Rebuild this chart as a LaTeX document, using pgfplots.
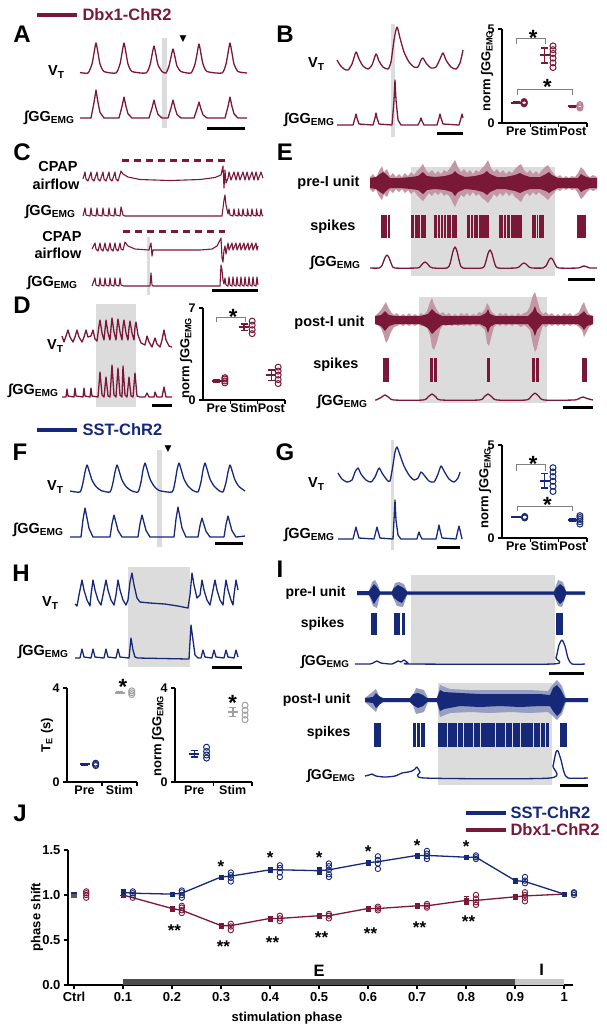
\documentclass[border=0pt]{standalone}
\usepackage{fontspec}
\setmainfont{Liberation Sans}
\newfontfamily\dejavu{DejaVu Sans}
\usepackage{pgfplots}
\pgfplotsset{compat=1.18}

\definecolor{mar}{RGB}{122,24,56}
\definecolor{nav}{RGB}{22,40,120}
\definecolor{shade}{RGB}{220,220,220}
\definecolor{stimgray}{RGB}{160,160,160}

\newcommand\lab{\fontsize{14.5}{16}\selectfont\bfseries}
\newcommand\labi{\fontsize{14}{16}\selectfont\bfseries}
\newcommand\pl{\fontsize{24}{26}\selectfont\bfseries}
\newcommand\leg{\fontsize{16.5}{18}\selectfont\bfseries}
\newcommand\tk{\fontsize{12.5}{14}\selectfont\bfseries}
\newcommand\ylab{\fontsize{13}{14}\selectfont\bfseries}
\newcommand\st{\fontsize{22}{22}\selectfont\bfseries}
\newcommand\stj{\fontsize{17}{17}\selectfont\bfseries}

% filled block: x1 x2 y1 y2 colour
\newcommand\blk[5]{\addplot[fill=#5,draw=none] coordinates {(#1,#3)(#2,#3)(#2,#4)(#1,#4)} --cycle;}
% scale bar: x1 x2 y
\newcommand\sbar[3]{\addplot[black,line width=3pt] coordinates {(#1,#3)(#2,#3)};}

\pgfplotsset{
  tr/.style={line width=1.3pt, line join=round},
  sc/.style={scale only axis, anchor=south west, axis lines=left,
    axis line style={line width=1.5pt,-}, tick align=outside,
    major tick length=4pt, tick style={line width=1.4pt,black},
    tick label style={font=\tk}, /pgf/number format/assume math mode=true,
    clip=false},
  cat/.style={xtick={1.5,2.5,3.5}, xticklabels={}, extra x tick style={major tick length=0pt}},
  mn/.style={error bars/.cd, y dir=both, y explicit, error bar style={line width=1.5pt},
    error mark options={rotate=90, mark size=3.5pt, line width=1.5pt},
    /pgfplots/.cd, only marks, mark=-, mark size=5pt, mark options={line width=2pt}},
  pt/.style={only marks, mark=o, mark size=3pt, mark options={line width=1pt}},
  jm/.style={error bars/.cd, y dir=both, y explicit, error bar style={line width=1pt},
    error mark options={rotate=90, mark size=2.5pt, line width=1pt},
    /pgfplots/.cd, only marks, mark=square*, mark size=2.3pt},
  jp/.style={only marks, mark=o, mark size=2.7pt, mark options={line width=0.9pt}},
}

\begin{document}
\begin{tikzpicture}
\path[use as bounding box] (0,0) rectangle (607pt,-1029pt);

% ---------------- canvas with all the recordings ----------------
\begin{axis}[at={(0pt,0pt)}, anchor=north west, width=607pt, height=1029pt,
  scale only axis, xmin=0, xmax=607, ymin=0, ymax=1029, y dir=reverse,
  axis lines=none, clip=false]

% shaded stimulation periods
\blk{162}{167}{38}{128}{shade}
\blk{391}{395}{24}{137}{shade}
\blk{147}{150}{237}{295}{shade}
\blk{96}{136}{304}{407}{shade}
\blk{411}{555}{167}{276}{shade}
\blk{419}{547}{297}{403}{shade}
\blk{157}{162}{450}{547}{shade}
\blk{391}{394}{440}{550}{shade}
\blk{128}{190}{567}{667}{shade}
\blk{411}{555}{575}{665}{shade}
\blk{438}{552}{683}{785}{shade}

% scale bars
\sbar{207}{245}{128}
\sbar{437}{463}{133}
\sbar{212}{258}{290}
\sbar{152}{172}{405}
\sbar{568}{595}{279}
\sbar{563}{593}{407}
\sbar{215}{243}{543}
\sbar{437}{460}{547}
\sbar{212}{242}{667}
\sbar{549}{584}{673}
\sbar{560}{588}{785}

% genotype keys
\addplot[mar,line width=4.5pt] coordinates {(37,15)(77,15)};
\addplot[nav,line width=4.5pt] coordinates {(37,430)(77,430)};
\addplot[nav,line width=4.5pt] coordinates {(466,813)(506,813)};
\addplot[mar,line width=4.5pt] coordinates {(466,830)(506,830)};

% ---- A ----
\addplot[tr,mar,smooth,tension=0.35] coordinates {(80,72.5)(88,73)(92,64)(94,53)(96,43)(98,53)(100,64)(104,71.5)(116,73)(120,64)(122,53)(124,43)(126,53)(128,64)(132,71.5)(146,73)(150,65)(152,55)(154,46)(156,55)(158,65)(162,71.5)(166,73)(169,66)(171,57)(173,49)(175,57)(177,66)(181,71.5)(191,73)(195,64)(197,54)(199,44)(201,54)(203,64)(207,71.5)(222,73)(226,64)(228,53)(230,43)(232,53)(234,64)(238,71.5)(247,73)};
\addplot[tr,mar] coordinates {(80,118)(91,118)(94,102.5)(96,90)(98,102.5)(100,112.4)(104,118)(119,118)(122,106.5)(124,97)(126,106.5)(128,113.8)(132,118)(149,118)(152,108)(154,100)(156,108)(158,114.4)(162,118)(168,118)(171,108)(173,100)(175,108)(177,114.4)(181,118)(194,118)(197,109)(199,102)(201,109)(203,114.8)(207,118)(225,118)(228,106.5)(230,97)(232,106.5)(234,113.8)(238,118)(247,118)};

% ---- B ----
\addplot[tr,mar,smooth,tension=0.4] coordinates {(337,60)(340,65)(344,69)(348,70)(352,64)(356,52)(359,59)(363,66)(368,69)(372,65)(376,54)(379,61)(383,67)(388,69)(391,62)(394,40)(397,27)(400,38)(404,52)(409,62)(414,67)(418,67)(421,60)(423,58)(426,63)(431,68)(436,67)(440,59)(443,53)(446,60)(451,67)(456,69)(460,63)(463,50)};
\addplot[tr,mar] coordinates {(337,125)(353,125)(355,118)(356,114)(357,118)(359,124)(373,125)(375,118)(376,113)(377,118)(379,124)(392,125)(394,100)(395,80)(396,100)(398,120)(401,125)(418,125)(420,121)(421,118)(422,121)(424,125)(437,125)(439,118)(440,114)(441,118)(443,124)(459,125)(461,118)(462,114)(463,118)};

% ---- C ----
\addplot[mar,line width=3pt,dash pattern=on 7pt off 5pt] coordinates {(122,160)(225,160)};
\addplot[mar,line width=3pt,dash pattern=on 7pt off 5pt] coordinates {(123,231)(225,231)};
\addplot[tr,mar,line width=1.1pt] coordinates {(83,179)(85,172)(86,179)(88,181)(91,172)(92,179)(94,181)(97,172)(98,179)(100,181)(103,172)(104,179)(106,181)(109,172)(110,179)(112,181)(115,172)(116,179)(118,181)(121,171)(123,174)(128,177)(140,179.5)(170,180.5)(200,179.5)(215,177.5)(221,175)(223,166)(224,188)(225,170)(226,183)(228,178)(229,172)(231,180)(234,172)(236,180)(238,172)(240,180)(243,172)(245,180)(247,172)(249,180)(252,172)(254,180)(256,172)(258,180)(261,172)(263,178)};
\addplot[tr,mar,line width=1.1pt] coordinates {(83,216)(85,208)(86,215)(90,216)(91,208)(92,215)(96,216)(97,208)(98,215)(102,216)(103,208)(104,215)(108,216)(109,208)(110,215)(114,216)(115,208)(116,215)(120,216)(121,207)(123,215)(125,216)(222,216)(224,200)(225,195)(226,205)(228,214)(229,209)(230,215)(233,216)(234,209)(235,215)(238,216)(238.5,209)(239.5,215)(242,216)(243,209)(244,215)(247,216)(247.5,209)(248.5,215)(251,216)(252,209)(253,215)(256,216)(256.5,209)(257.5,215)(260,216)(261,209)(262,215)(263,216)};
\addplot[tr,mar,line width=1.1pt] coordinates {(92,249)(95,243)(96,249)(98,251)(100,243)(101,249)(103,251)(105,243)(106,249)(108,251)(110,243)(111,249)(113,251)(115,243)(116,249)(118,251)(120,243)(121,249)(123,250)(125,242)(128,246)(135,249)(149,250)(150,246)(151,243)(152,256)(153,250)(160,250)(200,250)(212,249)(217,246)(220,240)(221,238)(222,258)(223,262)(224,250)(225,246)(226,254)(228,243)(229,250)(232,243)(233,250)(236,243)(237,250)(240,243)(241,250)(244,243)(245,250)(248,243)(249,250)(252,243)(253,250)(256,243)(257,250)(258,246)};
\addplot[tr,mar,line width=1.1pt] coordinates {(92,286)(95,278)(96,285)(99,286)(100,278)(101,285)(104,286)(105,278)(106,285)(109,286)(110,278)(111,285)(114,286)(115,278)(116,285)(119,286)(120,278)(121,285)(124,286)(150,286)(151,273)(152,285)(153,286)(220,286)(221,265)(222,270)(223,280)(224,284)(225,278)(226,285)(228,286)(229,277)(230,285)(232,286)(233,277)(234,285)(236,286)(237,277)(238,285)(240,286)(241,277)(242,285)(244,286)(245,277)(246,285)(248,286)(249,277)(250,285)(252,286)(253,277)(254,285)(256,286)(257,277)(258,285)};

% ---- D ----
\addplot[tr,mar] coordinates {(62,336)(64,342)(66,336)(68,330)(70,337)(73,342)(75,337)(77,330)(79,337)(82,342)(84,337)(86,330)(88,337)(91,336)(93,330)(95,339)(97,341)(99,326)(100,320)(102,333)(104,340)(105,330)(106,320)(108,333)(110,340)(111,328)(112,318)(114,332)(116,340)(117,328)(118,319)(120,332)(122,340)(123,326)(124,320)(126,333)(128,340)(129,328)(130,321)(132,333)(134,340)(135,327)(136,322)(138,335)(141,343)(145,345)(147,336)(149,342)(152,347)(155,338)(157,344)(160,347)(162,340)(164,330)(166,340)(169,346)(172,347)};
\addplot[tr,mar] coordinates {(62,397)(66,397)(67,389)(68,396)(74,397)(75,388)(76,396)(83,397)(84,388)(85,396)(90,397)(91,388)(92,396)(98,397)(100,372)(102,395)(104,397)(106,377)(108,396)(110,397)(112,365)(114,395)(116,397)(118,368)(120,395)(122,397)(123,366)(125,395)(127,397)(129,377)(131,396)(133,397)(135,373)(137,396)(140,397)(145,397)(147,393)(149,397)(154,397)(155,392)(157,397)(162,397)(164,387)(166,397)(172,397)};

% ---- E : pre-I unit ----
\addplot[fill=mar!45,draw=none] coordinates {(370,177)(373,174)(376,178)(379,171)(382,166)(384,172)(387,169)(390,176)(393,173)(396,177)(399,174)(402,177)(405,173)(408,176)(411,172)(414,175)(417,171)(420,168)(423,164)(426,170)(429,173)(432,170)(435,174)(438,171)(441,174)(444,170)(447,172)(450,168)(453,163)(455,160)(458,167)(461,172)(464,169)(467,173)(470,170)(473,174)(476,170)(479,172)(482,168)(485,165)(488,160)(491,168)(494,172)(497,169)(500,173)(503,170)(506,174)(509,171)(512,173)(515,169)(518,166)(521,164)(524,170)(527,173)(530,170)(533,174)(536,171)(539,174)(542,170)(545,167)(548,165)(551,170)(554,174)(557,177)(560,175)(563,178)(566,176)(569,178)(572,176)(575,177)(578,173)(581,167)(584,170)(587,175)(590,177)(593,175)(597,177)
(597,189)(593,191)(590,189)(587,192)(584,196)(581,199)(578,193)(575,189)(572,190)(569,188)(566,190)(563,188)(560,191)(557,189)(554,193)(551,196)(548,200)(545,197)(542,195)(539,192)(536,195)(533,192)(530,196)(527,193)(524,196)(521,202)(518,199)(515,197)(512,193)(509,196)(506,192)(503,196)(500,193)(497,197)(494,194)(491,199)(488,203)(485,200)(482,198)(479,194)(476,196)(473,192)(470,196)(467,193)(464,197)(461,195)(458,200)(455,207)(453,203)(450,197)(447,194)(444,196)(441,192)(438,195)(435,192)(432,196)(429,193)(426,197)(423,201)(420,198)(417,195)(414,191)(411,194)(408,190)(405,193)(402,189)(399,192)(396,189)(393,193)(390,190)(387,197)(384,194)(382,200)(379,196)(376,189)(373,192)(370,189)} --cycle;
\addplot[fill=mar,draw=none] coordinates {(370,178)(376,177)(380,174)(383,172)(386,174)(390,178)(400,178)(411,177)(418,176)(423,172)(427,176)(435,177)(445,176)(452,174)(455,171)(458,174)(465,177)(475,176)(483,174)(487,171)(490,174)(497,177)(505,177)(515,175)(520,173)(524,175)(530,177)(540,177)(546,174)(549,172)(552,175)(558,178)(570,178)(578,178)(581,174)(584,176)(590,178)(597,178)(597,188)(590,188)(584,190)(581,192)(578,188)(570,188)(558,188)(552,191)(549,193)(546,191)(540,189)(530,189)(524,191)(520,193)(515,191)(505,189)(497,189)(490,192)(487,195)(483,192)(475,190)(465,189)(458,192)(455,196)(452,192)(445,190)(435,189)(427,190)(423,194)(418,190)(411,189)(400,188)(390,188)(386,191)(383,194)(380,192)(376,189)(370,188)} --cycle;
% spikes
\blk{381}{386.5}{215}{238}{mar}\blk{387.5}{389.5}{215}{238}{mar}
\blk{411}{414}{215}{238}{mar}\blk{415}{419.5}{215}{238}{mar}\blk{420.5}{426}{215}{238}{mar}
\blk{434}{437}{215}{238}{mar}\blk{438}{440}{215}{238}{mar}\blk{441}{442.5}{215}{238}{mar}\blk{443.5}{445.5}{215}{238}{mar}\blk{446.5}{450.5}{215}{238}{mar}\blk{451.5}{457}{215}{238}{mar}
\blk{467}{470}{215}{238}{mar}\blk{471}{473}{215}{238}{mar}\blk{474}{478}{215}{238}{mar}\blk{479}{489}{215}{238}{mar}
\blk{499}{503}{215}{238}{mar}\blk{504}{506}{215}{238}{mar}\blk{507}{510}{215}{238}{mar}\blk{511}{522}{215}{238}{mar}
\blk{532}{536}{215}{238}{mar}\blk{537}{538}{215}{238}{mar}\blk{539}{544}{215}{238}{mar}
\blk{577}{586}{215}{238}{mar}
\addplot[tr,mar,smooth,tension=0.4] coordinates {(370,268)(379,268)(382,265.4)(385,257.6)(387,255)(389,257.6)(392,265.4)(395,268)(417,268)(420,266.8)(423,263.2)(425,262)(427,263.2)(430,266.8)(433,268)(447,268)(450,263.8)(453,251.2)(455,247)(457,251.2)(460,263.8)(463,268)(482,268)(485,264.4)(488,253.6)(490,250)(492,253.6)(495,264.4)(498,268)(516,268)(519,267)(522,264)(524,263)(526,264)(529,267)(532,268)(543,268)(546,266)(549,260)(551,258)(553,260)(556,266)(559,268)(578,268)(582,266.5)(584,266)(586,266.5)(590,268)(597,268)};

% ---- E : post-I unit ----
\addplot[fill=mar!45,draw=none] coordinates {(375,316)(378,313)(381,310)(384,305)(386,302)(388,307)(391,312)(394,315)(397,313)(400,316)(403,314)(406,316)(409,313)(412,316)(415,314)(418,316)(421,313)(424,315)(427,311)(430,302)(432,298)(434,304)(437,310)(440,314)(443,312)(446,315)(449,313)(452,316)(455,314)(458,316)(461,313)(464,315)(467,313)(470,316)(473,314)(476,315)(479,312)(482,313)(485,309)(487,303)(489,306)(491,311)(494,314)(497,316)(500,313)(503,315)(506,313)(509,316)(512,314)(515,316)(518,313)(521,315)(524,313)(527,312)(530,306)(533,295)(535,292)(537,299)(540,310)(543,314)(546,312)(549,315)(552,313)(555,316)(558,314)(561,316)(564,313)(567,315)(570,313)(573,316)(576,314)(579,312)(582,305)(584,302)(586,308)(589,314)(593,316)
(593,324)(589,327)(586,333)(584,337)(582,330)(579,327)(576,325)(573,324)(570,326)(567,324)(564,326)(561,324)(558,326)(555,324)(552,326)(549,324)(546,327)(543,325)(540,335)(537,348)(535,352)(533,345)(530,330)(527,327)(524,325)(521,327)(518,325)(515,324)(512,326)(509,324)(506,326)(503,324)(500,326)(497,324)(494,327)(491,338)(489,346)(487,343)(485,330)(482,327)(479,325)(476,326)(473,324)(470,326)(467,324)(464,326)(461,324)(458,326)(455,324)(452,326)(449,324)(446,326)(443,325)(440,330)(437,342)(434,350)(432,347)(430,335)(427,328)(424,325)(421,326)(418,324)(415,326)(412,324)(409,326)(406,324)(403,326)(400,324)(397,326)(394,327)(391,332)(388,340)(386,343)(384,336)(381,328)(378,325)(375,324)} --cycle;
\addplot[fill=mar,draw=none] coordinates {(375,316)(381,315)(385,311)(389,315)(395,316)(420,316)(428,314)(432,309)(436,313)(442,316)(480,316)(486,313)(488,309)(490,314)(495,316)(528,316)(533,311)(535,306)(537,312)(542,316)(578,316)(582,313)(584,311)(587,315)(593,316)(593,324)(587,326)(584,330)(582,327)(578,324)(542,324)(537,330)(535,336)(533,330)(528,324)(495,324)(490,327)(488,333)(486,327)(480,324)(442,325)(436,330)(432,334)(428,328)(420,324)(395,324)(389,326)(385,331)(381,326)(375,324)} --cycle;
\blk{383}{389}{358}{382}{mar}
\blk{430}{433}{358}{382}{mar}\blk{434}{437}{358}{382}{mar}
\blk{487}{490}{358}{382}{mar}
\blk{532}{535}{358}{382}{mar}\blk{536}{539}{358}{382}{mar}
\blk{582}{587}{358}{382}{mar}
\addplot[tr,mar,smooth,tension=0.4] coordinates {(375,400)(376,400)(381,397.5)(385,395)(389,397.5)(394,400)(423,400)(428,397)(432,394)(436,397)(441,400)(479,400)(484,397)(488,394)(492,397)(497,400)(526,400)(531,396.5)(535,393)(539,396.5)(544,400)(574,400)(579,398.5)(583,397)(587,398.5)(593,400)};

% ---- F ----
\addplot[tr,nav,smooth,tension=0.35] coordinates {(70,491)(80,492)(83,482.5)(85,472)(87,465)(89,470.5)(92,480)(96,486.5)(101,490.5)(110,492)(113,482.5)(115,472)(117,465)(119,470.5)(122,480)(126,486.5)(131,490.5)(138,492)(141,482)(143,470)(145,463)(147,469)(150,479)(154,486)(159,490.5)(172,492)(175,482)(177,470)(179,463)(181,469)(184,479)(188,486)(193,490.5)(198,492)(201,482)(203,470)(205,463)(207,469)(210,479)(214,486)(219,490.5)(223,492)(226,482.5)(228,472)(230,465)(232,470.5)(235,480)(239,486.5)(245,491)};
\addplot[tr,nav] coordinates {(70,537)(81,537)(83,519.6)(85,508)(87,518)(89,528.3)(93,537)(110,537)(112,523.8)(114,515)(116,522.7)(118,530.4)(122,537)(138,537)(140,523.8)(142,515)(144,522.7)(146,530.4)(150,537)(174,537)(176,519)(178,507)(180,517.5)(182,528)(186,537)(198,537)(200,525.6)(202,518)(204,524.7)(206,531.3)(210,537)(224,537)(226,524.4)(228,516)(230,523.4)(232,530.7)(236,537)(245,536)};

% ---- G ----
\addplot[tr,nav,smooth,tension=0.4] coordinates {(338,473)(342,479)(347,482)(352,480)(355,472)(358,468)(361,474)(366,480)(371,482)(375,477)(379,468)(382,473)(387,480)(390,481)(393,465)(395,452)(397,447)(400,455)(404,466)(409,475)(414,480)(418,478)(421,472)(424,475)(429,481)(434,482)(438,474)(441,466)(444,471)(449,479)(454,482)(458,478)(460,472)};
\addplot[tr,nav] coordinates {(338,539)(353,539)(355,531)(356,527)(357,531)(359,538)(374,539)(376,531)(377,527)(378,531)(380,538)(393,539)(394,520)(395,500)(396,520)(398,535)(401,539)(417,539)(418,535)(419,532)(420,535)(422,539)(436,539)(438,530)(439,525)(440,530)(442,538)(456,539)(458,530)(459,526)(460,530)(462,539)};

% ---- H ----
\addplot[tr,nav] coordinates {(75,604)(77,606)(79,595)(82,580)(84,590)(87,600)(90,606)(91,595)(93,580)(95,590)(98,600)(101,605)(103,595)(106,580)(108,590)(111,600)(114,605)(116,595)(118,580)(120,590)(123,600)(126,605)(128,600)(130,582)(132,573)(134,585)(137,598)(140,602)(150,603)(165,604)(178,606)(188,608)(190,595)(192,573)(194,585)(197,598)(200,595)(202,580)(204,590)(207,600)(210,605)(212,595)(215,580)(217,590)(220,600)(223,605)(224,595)(226,580)(228,590)(231,600)(233,605)(234,595)(236,580)(238,590)};
\addplot[tr,nav] coordinates {(75,658)(80,658)(82,649)(84,657)(91,658)(93,649)(95,657)(104,658)(106,649)(108,657)(116,658)(118,649)(120,657)(129,658)(131,638)(133,650)(135,657)(138,658)(189,659)(191,625)(193,640)(195,655)(198,658)(201,658)(203,650)(205,657)(212,658)(214,650)(216,657)(224,658)(226,650)(228,657)(234,658)(236,650)(238,657)};

% ---- I : pre-I unit ----
\addplot[fill=nav!45,draw=none] coordinates {(357,591)(369,591)(372,582)(375,580)(378,585)(380,591)(392,591)(395,583)(399,582)(404,584)(407,591)(554,591)(558,580)(563,582)(566,591)(585,591)(585,595)(566,595)(562,607)(558,606)(554,595)(407,595)(403,607)(397,606)(392,595)(380,595)(377,608)(373,606)(369,595)(357,595)} --cycle;
\addplot[fill=nav,draw=none] coordinates {(357,591)(369,591)(372,587)(374,584)(377,587)(380,591.5)(392,591.5)(394,588)(398,585)(402,587)(405,589)(407,591.5)(554,591.5)(556,588)(560,584)(564,587)(566,591.5)(585,591.5)(585,594.5)(566,594.5)(564,600)(560,604)(556,599)(554,594.5)(407,594.5)(405,598)(402,603)(398,601)(394,598)(392,594.5)(380,594.5)(377,599)(374,604)(371,598)(369,595)(357,595)} --cycle;
\blk{371}{377}{613}{635}{nav}
\blk{394}{400}{613}{635}{nav}\blk{402}{405}{613}{635}{nav}
\blk{556}{563}{613}{635}{nav}
\addplot[tr,nav,smooth,tension=0.4] coordinates {(355,664)(370,664)(373,663)(377,661)(381,663)(392,664)(398,661)(401,662)(404,660)(408,663)(412,664)(552,664)(556,658)(559,645)(562,640)(565,646)(568,658)(572,664)(585,664)};

% ---- I : post-I unit ----
\addplot[fill=nav!45,draw=none] coordinates {(365,698)(376,689)(380,698)(412,698)(416,688)(424,690)(428,698)(437,698)(440,685)(450,689)(470,690)(490,690)(510,690)(530,690)(548,691)(553,684)(557,680)(562,686)(566,698)(588,698)(588,702)(566,702)(562,714)(557,720)(553,716)(548,712)(530,713)(510,712)(490,713)(470,712)(450,713)(440,717)(437,702)(428,702)(424,712)(416,714)(412,702)(380,702)(376,712)(365,702)} --cycle;
\addplot[fill=nav,draw=none] coordinates {(365,698)(373,697)(376,693)(379,696)(383,698)(410,698)(413,694)(418,693)(423,695)(427,698)(437,698)(440,690)(444,692)(460,693)(480,694)(500,694)(520,694)(540,694)(550,695)(553,688)(557,685)(561,690)(565,698)(588,698)(588,702)(565,702)(561,712)(557,716)(553,711)(550,706)(540,706)(520,707)(500,706)(480,707)(460,706)(444,709)(440,711)(437,702)(427,702)(423,706)(418,708)(413,705)(410,702)(383,702)(379,705)(376,708)(373,703)(365,702)} --cycle;
\blk{374}{381}{723}{747}{nav}
\blk{413}{415.5}{723}{747}{nav}\blk{417}{419.5}{723}{747}{nav}\blk{421}{425}{723}{747}{nav}
\blk{438}{446.5}{723}{747}{nav}\blk{447.5}{456.5}{723}{747}{nav}\blk{457.5}{462.5}{723}{747}{nav}\blk{463.5}{472.5}{723}{747}{nav}\blk{473.5}{479.5}{723}{747}{nav}\blk{480.5}{494.5}{723}{747}{nav}\blk{495.5}{504.5}{723}{747}{nav}\blk{505.5}{511.5}{723}{747}{nav}\blk{512.5}{519.5}{723}{747}{nav}\blk{520.5}{532.5}{723}{747}{nav}\blk{533.5}{539.5}{723}{747}{nav}\blk{540.5}{544.5}{723}{747}{nav}\blk{545.5}{549}{723}{747}{nav}
\blk{560}{567}{723}{747}{nav}
\addplot[tr,nav,smooth,tension=0.4] coordinates {(365,776)(369,775)(372,774)(376,776)(385,777)(395,776)(402,773)(408,772)(412,771)(415,769)(417,767)(420,772)(425,778)(550,778)(553,766)(556,752)(558,751)(561,760)(564,772)(568,778)(588,778)};

% ---------------- text ----------------
\node[anchor=west,font=\leg,text=mar] at (axis cs:79,15) {Dbx1-ChR2};
\node[anchor=west,font=\leg,text=nav] at (axis cs:79,430) {SST-ChR2};
\node[anchor=west,font=\leg,text=nav] at (axis cs:507,813) {SST-ChR2};
\node[anchor=west,font=\leg,text=mar] at (axis cs:507,830) {Dbx1-ChR2};

\node[font=\pl] at (axis cs:22,34) {A};
\node[font=\pl] at (axis cs:285,34) {B};
\node[font=\pl] at (axis cs:22,152) {C};
\node[font=\pl] at (axis cs:22,305) {D};
\node[font=\pl] at (axis cs:285,152) {E};
\node[font=\pl] at (axis cs:20,452) {F};
\node[font=\pl] at (axis cs:285,452) {G};
\node[font=\pl] at (axis cs:21,573) {H};
\node[font=\pl] at (axis cs:280,569) {I};
\node[font=\pl] at (axis cs:20,813) {J};

\node[font={\dejavu\fontsize{9}{9}\selectfont}] at (axis cs:183,39) {▼};
\node[font={\dejavu\fontsize{9}{9}\selectfont}] at (axis cs:168,449) {▼};

\node[anchor=east,font=\lab] at (axis cs:68,72) {V\textsubscript{T}};
\node[anchor=east,font=\lab] at (axis cs:78,118) {∫GG\textsubscript{EMG}};
\node[anchor=east,font=\lab] at (axis cs:328,64) {V\textsubscript{T}};
\node[anchor=east,font=\lab] at (axis cs:338,120) {∫GG\textsubscript{EMG}};
\node[font=\lab] at (axis cs:58,166) {CPAP};
\node[font=\lab] at (axis cs:56,184) {airflow};
\node[anchor=east,font=\lab] at (axis cs:79,212) {∫GG\textsubscript{EMG}};
\node[font=\lab] at (axis cs:62,236) {CPAP};
\node[font=\lab] at (axis cs:58,253) {airflow};
\node[anchor=east,font=\lab] at (axis cs:81,283) {∫GG\textsubscript{EMG}};
\node[anchor=east,font=\lab] at (axis cs:67,346) {V\textsubscript{T}};
\node[anchor=east,font=\lab] at (axis cs:62,391) {∫GG\textsubscript{EMG}};
\node[anchor=east,font=\lab] at (axis cs:363,183) {pre-I unit};
\node[anchor=east,font=\lab] at (axis cs:359,227) {spikes};
\node[anchor=east,font=\lab] at (axis cs:364,263) {∫GG\textsubscript{EMG}};
\node[anchor=east,font=\lab] at (axis cs:368,323) {post-I unit};
\node[anchor=east,font=\lab] at (axis cs:362,365) {spikes};
\node[anchor=east,font=\lab] at (axis cs:371,402) {∫GG\textsubscript{EMG}};
\node[anchor=east,font=\lab] at (axis cs:67,487) {V\textsubscript{T}};
\node[anchor=east,font=\lab] at (axis cs:67,530) {∫GG\textsubscript{EMG}};
\node[anchor=east,font=\lab] at (axis cs:328,484) {V\textsubscript{T}};
\node[anchor=east,font=\lab] at (axis cs:338,535) {∫GG\textsubscript{EMG}};
\node[anchor=east,font=\lab] at (axis cs:62,603) {V\textsubscript{T}};
\node[anchor=east,font=\lab] at (axis cs:72,652) {∫GG\textsubscript{EMG}};
\node[anchor=east,font=\labi] at (axis cs:349,593) {pre-I unit};
\node[anchor=east,font=\labi] at (axis cs:348,624) {spikes};
\node[anchor=east,font=\labi] at (axis cs:353,662) {∫GG\textsubscript{EMG}};
\node[anchor=east,font=\labi] at (axis cs:354,700) {post-I unit};
\node[anchor=east,font=\labi] at (axis cs:354,733) {spikes};
\node[anchor=east,font=\labi] at (axis cs:359,776) {∫GG\textsubscript{EMG}};

\node[rotate=90,font=\ylab] at (axis cs:487,71) {norm ∫GG\textsubscript{EMG}};
\node[rotate=90,font=\ylab] at (axis cs:186,358) {norm ∫GG\textsubscript{EMG}};
\node[rotate=90,font=\ylab] at (axis cs:485,488) {norm ∫GG\textsubscript{EMG}};
\node[rotate=90,font=\ylab] at (axis cs:47,735) {T\textsubscript{E} (s)};
\node[rotate=90,font=\ylab] at (axis cs:158,736) {norm ∫GG\textsubscript{EMG}};
\node[rotate=90,font=\ylab] at (axis cs:37,917) {phase shift};
\node[font=\ylab] at (axis cs:287,1018) {stimulation phase};
\end{axis}

% ---------------- B summary ----------------
\begin{axis}[sc, cat, at={(502pt,-123pt)}, width=85pt, height=94pt,
  xmin=0.5, xmax=3.5, ymin=0, ymax=5, ytick={0,5},
  extra x ticks={1,2,3}, extra x tick labels={Pre,Stim,Post}]
\addplot[mn,mar] coordinates {(1,1.08) +- (0,0.03) (2,3.6) +- (0,0.4) (3,0.88) +- (0,0.05)};
\addplot[pt,mar] coordinates {(1.28,1.02)(1.28,1.06)(1.28,1.1)(1.28,1.14)(2.3,2.95)(2.3,3.2)(2.3,3.45)(2.3,3.7)(2.3,3.9)(2.3,4.1)};
\addplot[pt,mar!55] coordinates {(3.25,0.8)(3.25,0.86)(3.25,0.92)(3.25,0.98)};
\addplot[gray,line width=1pt] coordinates {(1,4.2)(1,4.47)(2.05,4.47)(2.05,4.2)};
\addplot[gray,line width=1pt] coordinates {(1.03,1.5)(1.03,1.8)(3,1.8)(3,1.5)};
\node[font=\st] at (axis cs:1.6,4.55) {*};
\node[font=\st] at (axis cs:2.1,1.9) {*};
\end{axis}

% ---------------- D summary ----------------
\begin{axis}[sc, cat, at={(203pt,-400pt)}, width=82pt, height=92pt,
  xmin=0.5, xmax=3.5, ymin=0, ymax=7, ytick={0,7},
  extra x ticks={1,2,3}, extra x tick labels={Pre,Stim,Post}]
\addplot[mn,mar] coordinates {(1,1.45) +- (0,0.1) (2,5.52) +- (0,0.25) (3,1.9) +- (0,0.4)};
\addplot[pt,mar] coordinates {(1.3,1.3)(1.3,1.45)(1.3,1.6)(1.3,1.7)(2.3,5.05)(2.3,5.35)(2.3,5.7)(2.3,6.0)(3.25,1.25)(3.25,1.55)(3.25,1.9)(3.25,2.2)(3.25,2.5)};
\addplot[gray,line width=1pt] coordinates {(1,5.95)(1,6.3)(2.05,6.3)(2.05,5.95)};
\node[font=\st] at (axis cs:1.6,6.35) {*};
\end{axis}

% ---------------- G summary ----------------
\begin{axis}[sc, cat, at={(502pt,-538pt)}, width=85pt, height=93pt,
  xmin=0.5, xmax=3.5, ymin=0, ymax=5, ytick={0,5},
  extra x ticks={1,2,3}, extra x tick labels={Pre,Stim,Post}]
\addplot[mn,nav] coordinates {(1,1.12) +- (0,0.03) (2,3.08) +- (0,0.38) (3,0.96) +- (0,0.05)};
\addplot[pt,nav] coordinates {(1.3,1.08)(1.3,1.12)(1.3,1.16)(2.3,2.5)(2.3,2.78)(2.3,3.05)(2.3,3.3)(2.3,3.55)(2.3,3.78)(3.25,0.75)(3.25,0.88)(3.25,1.0)(3.25,1.1)(3.25,1.2)};
\addplot[gray,line width=1pt] coordinates {(1,3.62)(1,3.93)(2.05,3.93)(2.05,3.62)};
\addplot[gray,line width=1pt] coordinates {(1.03,1.43)(1.03,1.7)(3,1.7)(3,1.43)};
\node[font=\st] at (axis cs:1.6,4.0) {*};
\node[font=\st] at (axis cs:2.1,1.8) {*};
\end{axis}

% ---------------- H summaries ----------------
\begin{axis}[sc, at={(67pt,-782pt)}, width=70pt, height=94pt,
  xmin=0.5, xmax=2.5, ymin=0, ymax=4, ytick={0,4},
  xtick={1.5,2.5}, xticklabels={}, extra x ticks={1,2}, extra x tick labels={Pre,Stim},
  extra x tick style={major tick length=0pt}]
\addplot[mn,nav] coordinates {(1,0.75) +- (0,0.02)};
\addplot[mn,stimgray] coordinates {(2,3.8) +- (0,0.03)};
\addplot[pt,nav] coordinates {(1.32,0.7)(1.32,0.75)(1.32,0.8)};
\addplot[pt,stimgray] coordinates {(2.35,3.72)(2.35,3.8)(2.35,3.88)};
\node[font=\st] at (axis cs:2.1,4.05) {*};
\end{axis}

\begin{axis}[sc, at={(175pt,-782pt)}, width=77pt, height=94pt,
  xmin=0.5, xmax=2.5, ymin=0, ymax=4, ytick={0,4},
  xtick={1.5,2.5}, xticklabels={}, extra x ticks={1,2}, extra x tick labels={Pre,Stim},
  extra x tick style={major tick length=0pt}]
\addplot[mn,nav] coordinates {(1,1.2) +- (0,0.14)};
\addplot[mn,stimgray] coordinates {(2,2.98) +- (0,0.19)};
\addplot[pt,nav] coordinates {(1.32,1.02)(1.32,1.15)(1.32,1.3)(1.32,1.48)};
\addplot[pt,stimgray] coordinates {(2.32,2.65)(2.32,2.85)(2.32,3.05)(2.32,3.27)};
\node[font=\st] at (axis cs:2,3.35) {*};
\end{axis}

% ---------------- J phase response ----------------
\begin{axis}[sc, at={(68pt,-985pt)}, width=505pt, height=135pt,
  xmin=-0.0122, xmax=1.018, ymin=0, ymax=1.5,
  ytick={0,0.5,1,1.5}, yticklabels={0.0,0.5,1.0,1.5},
  xtick={0,0.1,0.2,0.3,0.4,0.5,0.6,0.7,0.8,0.9,1},
  xticklabels={Ctrl,0.1,0.2,0.3,0.4,0.5,0.6,0.7,0.8,0.9,1},
  tick label style={font=\fontsize{13}{14}\selectfont\bfseries}]
\addplot[fill=black!70,draw=none] coordinates {(0.1,0)(0.9,0)(0.9,0.065)(0.1,0.065)} --cycle;
\addplot[fill=black!22,draw=none] coordinates {(0.9,0)(1.0,0)(1.0,0.065)(0.9,0.065)} --cycle;
\node[font=\leg] at (axis cs:0.5,0.16) {E};
\node[font=\leg] at (axis cs:0.954,0.17) {I};
% SST-ChR2
\addplot[nav,line width=1.3pt] coordinates {(0.1,1.03)(0.12,1.02)(0.2,1.01)(0.22,1.02)(0.3,1.2)(0.32,1.21)(0.4,1.28)(0.42,1.28)(0.5,1.27)(0.52,1.28)(0.6,1.36)(0.62,1.37)(0.7,1.44)(0.72,1.44)(0.8,1.42)(0.82,1.42)(0.9,1.16)(0.92,1.15)(1.0,1.01)};
% Dbx1-ChR2
\addplot[mar,line width=1.3pt] coordinates {(0.1,1.0)(0.12,0.97)(0.2,0.85)(0.22,0.83)(0.3,0.66)(0.32,0.66)(0.4,0.74)(0.42,0.74)(0.5,0.77)(0.52,0.77)(0.6,0.85)(0.62,0.85)(0.7,0.88)(0.72,0.88)(0.8,0.94)(0.82,0.94)(0.9,0.98)(0.92,0.99)(1.0,1.01)};
\addplot[jm,black!65] coordinates {(0,1.0) +- (0,0.01)};
\addplot[only marks,mark=-,mark size=3pt,mark options={line width=2pt},nav] coordinates {(0,1.025)};
\addplot[jp,mar] coordinates {(0.025,0.97)(0.025,1.0)(0.025,1.02)(0.025,1.04)};
\addplot[jm,mar] coordinates {(0.1,1.0) +- (0,0.01) (0.2,0.85) +- (0,0.02) (0.3,0.66) +- (0,0.02) (0.4,0.74) +- (0,0.02) (0.5,0.77) +- (0,0.01) (0.6,0.85) +- (0,0.01) (0.7,0.88) +- (0,0.01) (0.8,0.94) +- (0,0.04) (0.9,0.98) +- (0,0.03)};
\addplot[jp,mar] coordinates {(0.12,0.97)(0.22,0.8)(0.22,0.83)(0.22,0.86)(0.22,0.88)(0.32,0.61)(0.32,0.65)(0.32,0.68)(0.42,0.71)(0.42,0.74)(0.42,0.77)(0.52,0.74)(0.52,0.77)(0.52,0.79)(0.62,0.83)(0.62,0.85)(0.62,0.87)(0.72,0.86)(0.72,0.88)(0.72,0.9)(0.82,0.89)(0.82,0.92)(0.82,0.96)(0.82,1.0)(0.92,0.93)(0.92,0.97)(0.92,1.0)(0.92,1.03)};
\addplot[jm,nav] coordinates {(0.1,1.03) +- (0,0.03) (0.2,1.01) +- (0,0.02) (0.3,1.2) +- (0,0.02) (0.4,1.28) +- (0,0.015) (0.5,1.27) +- (0,0.04) (0.6,1.36) +- (0,0.02) (0.7,1.44) +- (0,0.01) (0.8,1.42) +- (0,0.02) (0.9,1.16) +- (0,0.01) (1.0,1.01) +- (0,0.01)};
\addplot[jp,nav] coordinates {(0.12,1.0)(0.12,1.02)(0.12,1.04)(0.22,0.97)(0.22,1.0)(0.22,1.03)(0.22,1.05)(0.32,1.15)(0.32,1.19)(0.32,1.22)(0.32,1.25)(0.42,1.2)(0.42,1.25)(0.42,1.3)(0.42,1.33)(0.52,1.2)(0.52,1.23)(0.52,1.28)(0.52,1.32)(0.52,1.35)(0.62,1.29)(0.62,1.35)(0.62,1.39)(0.62,1.43)(0.72,1.4)(0.72,1.43)(0.72,1.46)(0.72,1.49)(0.82,1.4)(0.82,1.42)(0.82,1.44)(0.92,1.13)(0.92,1.16)(0.92,1.2)(1.02,1.0)(1.02,1.02)(1.02,1.03)};
\node[font=\stj] at (axis cs:0.3,1.31) {*};
\node[font=\stj] at (axis cs:0.4,1.41) {*};
\node[font=\stj] at (axis cs:0.5,1.41) {*};
\node[font=\stj] at (axis cs:0.6,1.48) {*};
\node[font=\stj] at (axis cs:0.7,1.55) {*};
\node[font=\stj] at (axis cs:0.8,1.54) {*};
\node[font=\stj] at (axis cs:0.205,0.6) {**};
\node[font=\stj] at (axis cs:0.305,0.43) {**};
\node[font=\stj] at (axis cs:0.405,0.47) {**};
\node[font=\stj] at (axis cs:0.505,0.53) {**};
\node[font=\stj] at (axis cs:0.605,0.57) {**};
\node[font=\stj] at (axis cs:0.705,0.64) {**};
\node[font=\stj] at (axis cs:0.805,0.7) {**};
\end{axis}
\end{tikzpicture}
\end{document}
